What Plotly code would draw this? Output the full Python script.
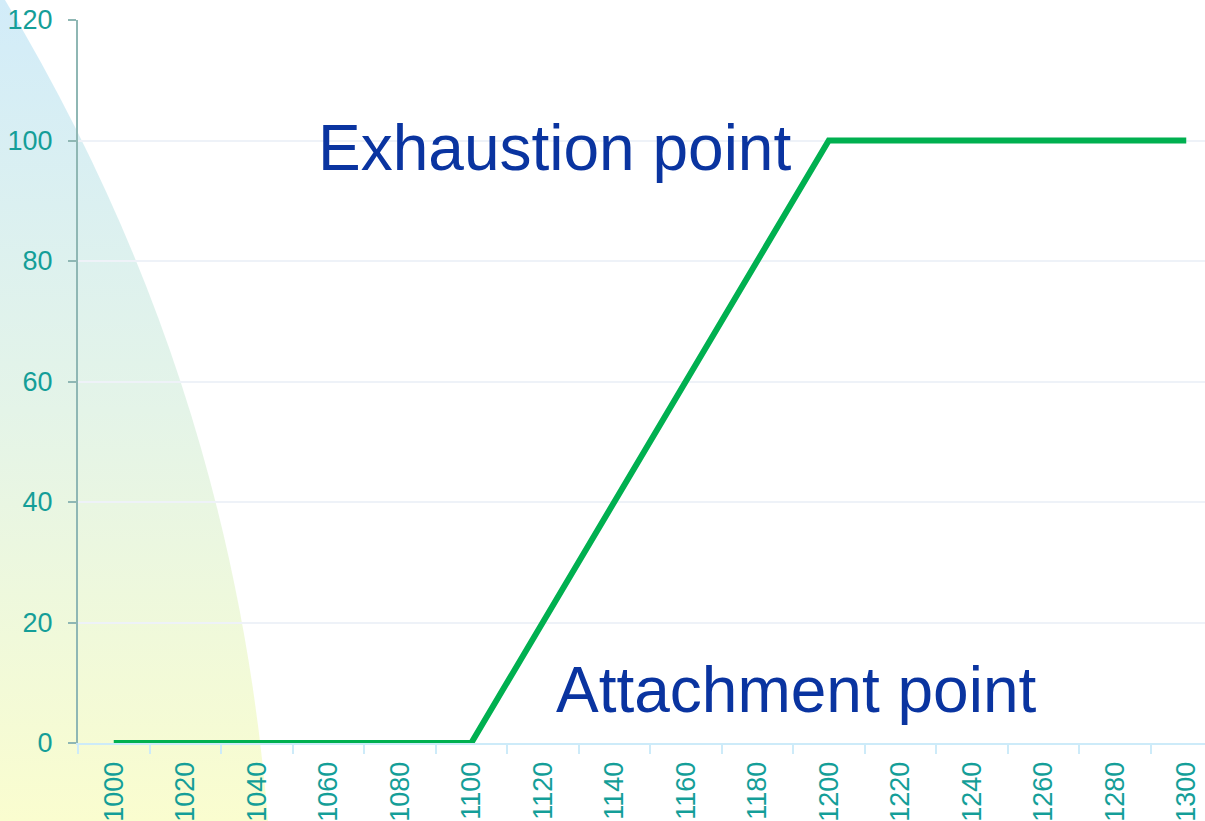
import plotly.graph_objects as go
import base64

# ---- data ----
categories = ["1000", "1020", "1040", "1060", "1080", "1100", "1120", "1140",
              "1160", "1180", "1200", "1220", "1240", "1260", "1280", "1300"]
values = [0, 0, 0, 0, 0, 0, 20, 40, 60, 80, 100, 100, 100, 100, 100, 100]
y_ticks = [0, 20, 40, 60, 80, 100, 120]
annotation_texts = ["Exhaustion point", "Attachment point"]
annotation_x = [6.17, 9.55]   # category index positions (text centre)
annotation_y = [98.8, 8.8]

W, H = 1205, 821
ML, MR, MT, MB = 78, 0, 20, 78
pw, ph = W - ML - MR, H - MT - MB

# background decoration (SVG gradient blob)
svg = (
    f'<svg xmlns="http://www.w3.org/2000/svg" width="{W}" height="{H}" viewBox="0 0 {W} {H}">'
    '<defs><linearGradient id="g" x1="0" y1="0" x2="0" y2="1">'
    '<stop offset="0" stop-color="#d2ecf9"/>'
    '<stop offset="0.5" stop-color="#e4f4e8"/>'
    '<stop offset="1" stop-color="#fafdcf"/>'
    '</linearGradient></defs>'
    '<path d="M0,0 L5,0 C169,273 246,548 268,821 L0,821 Z" fill="url(#g)"/>'
    '</svg>'
)
src = "data:image/svg+xml;base64," + base64.b64encode(svg.encode()).decode()

fig = go.Figure()
fig.add_trace(go.Scatter(
    x=categories, y=values, mode="lines",
    line=dict(color="#00b050", width=6), hoverinfo="skip", showlegend=False,
))

fig.add_layout_image(dict(
    source=src, xref="paper", yref="paper",
    x=-ML / pw, y=1 + MT / ph, sizex=W / pw, sizey=H / ph,
    xanchor="left", yanchor="top", sizing="stretch", layer="below",
))

for txt, ax, ay in zip(annotation_texts, annotation_x, annotation_y):
    fig.add_annotation(x=ax, y=ay, text=txt, showarrow=False,
                       xanchor="center", yanchor="middle",
                       font=dict(family="Liberation Sans, Arial", size=64, color="#0a34a0"))

tickfont = dict(family="Liberation Sans, Arial", size=27, color="#149e98")

fig.update_xaxes(
    type="category", range=[-0.5, -0.5 + pw / 71.5],
    tickson="boundaries", ticks="outside", ticklen=9, tickcolor="#cdebf9", tickwidth=2,
    showline=True, linecolor="#cdebf9", linewidth=2,
    showgrid=False, zeroline=False, tickangle=-90, tickfont=tickfont,
    ticklabelstandoff=6,
)
fig.update_yaxes(
    range=[0, 120], tickvals=y_ticks, ticks="outside", ticklen=8,
    tickcolor="#8fb7b4", tickwidth=2,
    showline=True, linecolor="#8fb7b4", linewidth=2,
    showgrid=True, gridcolor="#eef2f8", gridwidth=2, zeroline=False,
    tickfont=tickfont, ticklabelstandoff=10,
)
fig.update_layout(
    width=W, height=H, autosize=False,
    margin=dict(l=ML, r=MR, t=MT, b=MB, pad=0),
    paper_bgcolor="white", plot_bgcolor="rgba(0,0,0,0)",
    showlegend=False,
)
fig.write_html("out.html", config={"displayModeBar": False},
               post_script="document.body.style.margin='0';document.body.style.overflow='hidden';")
